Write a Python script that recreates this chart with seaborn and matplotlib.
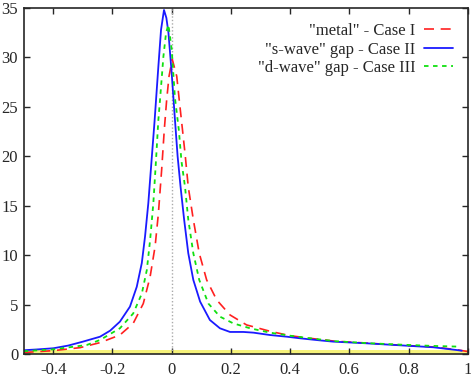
import numpy as np
import pandas as pd
import matplotlib
matplotlib.use("Agg")
import matplotlib.pyplot as plt
import seaborn as sns

# =========================
# DATA
# =========================

metal_x = [-0.5, -0.4, -0.31, -0.242, -0.175, -0.13, -0.096, -0.073, -0.056,
           -0.045, -0.034, -0.025, -0.017, -0.009, 0.002, 0.017, 0.028,
           0.036, 0.045, 0.056, 0.073, 0.093, 0.118, 0.152, 0.197, 0.253,
           0.332, 0.4, 0.467, 0.55, 0.66, 0.77, 0.88, 0.96, 1.0]
metal_y = [0.15, 0.34, 0.64, 1.15, 1.92, 3.1, 5.1, 7.8, 10.9,
           14.2, 18.6, 22.7, 25.7, 28.1, 29.8, 28.1, 25.0,
           22.8, 20.3, 16.9, 13.6, 10.2, 7.5, 5.47, 3.95, 2.94,
           2.3, 1.85, 1.59, 1.3, 1.1, 0.9, 0.72, 0.45, 0.25]

swave_x = [-0.5, -0.45, -0.4, -0.35, -0.3, -0.242, -0.208, -0.175, -0.141,
           -0.118, -0.101, -0.09, -0.079, -0.068, -0.058, -0.045, -0.036,
           -0.026, -0.018, -0.011, 0.0, 0.011, 0.02, 0.03, 0.042, 0.056,
           0.073, 0.096, 0.129, 0.163, 0.197, 0.242, 0.276, 0.332, 0.389,
           0.433, 0.5, 0.546, 0.659, 0.771, 0.884, 0.963, 0.98]
swave_y = [0.38, 0.47, 0.58, 0.85, 1.25, 1.75, 2.36, 3.27, 4.79,
           6.8, 9.2, 11.9, 15.25, 19.6, 23.5, 29.1, 32.8,
           34.8, 34.0, 32.5, 28.4, 23.7, 20.0, 16.9, 13.6, 10.2,
           7.5, 5.3, 3.44, 2.6, 2.23, 2.23, 2.16, 1.92, 1.75,
           1.59, 1.38, 1.25, 1.08, 0.88, 0.68, 0.4, 0.33]

dwave_x = [-0.5, -0.4, -0.287, -0.242, -0.175, -0.13, -0.101, -0.084, -0.073,
           -0.062, -0.053, -0.045, -0.04, -0.028, -0.019, -0.011, 0.0, 0.011,
           0.024, 0.033, 0.045, 0.056, 0.073, 0.093, 0.124, 0.163, 0.208,
           0.265, 0.332, 0.4, 0.467, 0.55, 0.66, 0.77, 0.88, 0.975]
dwave_y = [0.28, 0.47, 0.91, 1.42, 2.6, 4.1, 6.1, 8.5, 11.5,
           15.25, 19.6, 23.7, 25.5, 30.1, 32.5, 33.3, 30.8, 25.9,
           22.7, 19.5, 16.9, 13.6, 10.2, 7.5, 5.1, 3.78, 3.1,
           2.6, 2.16, 1.85, 1.59, 1.3, 1.1, 0.95, 0.82, 0.74]

labels = ['"metal" - Case I', '"s-wave" gap - Case II', '"d-wave" gap - Case III']
x_ticks = [-0.4, -0.2, 0, 0.2, 0.4, 0.6, 0.8, 1]
x_tick_labels = ["-0.4", "-0.2", "0", "0.2", "0.4", "0.6", "0.8", "1"]
y_ticks = [0, 5, 10, 15, 20, 25, 30, 35]

# =========================
# PLOT
# =========================

sns.set_style("ticks")
plt.rcParams['font.family'] = ['Liberation Serif', 'DejaVu Serif']
plt.rcParams['xtick.direction'] = 'in'
plt.rcParams['ytick.direction'] = 'in'

fig = plt.figure(figsize=(4.71, 3.78), dpi=100)
ax = fig.add_axes([0.0503, 0.0635, 0.9427, 0.9153])

# yellow strip along the zero line
ax.axhspan(0, 0.42, color='#f6f27a', lw=0, zorder=0)

# dotted line at zero
ax.axvline(0, color='#aaaaaa', lw=1, ls=(0, (1, 1.5)), zorder=1)

df_metal = pd.DataFrame({'x': metal_x, 'y': metal_y})
df_s = pd.DataFrame({'x': swave_x, 'y': swave_y})
df_d = pd.DataFrame({'x': dwave_x, 'y': dwave_y})

sns.lineplot(data=df_metal, x='x', y='y', ax=ax, color='#ff2020', lw=1.2,
             ls=(0, (6, 4)), label=labels[0], sort=False)
sns.lineplot(data=df_s, x='x', y='y', ax=ax, color='#1a1aff', lw=1.3,
             label=labels[1], sort=False)
sns.lineplot(data=df_d, x='x', y='y', ax=ax, color='#10e010', lw=1.3,
             ls=(0, (2.5, 2.5)), label=labels[2], sort=False)

ax.set_xlim(-0.5, 1)
ax.set_ylim(0, 35)
ax.set_xticks(x_ticks)
ax.set_xticklabels(x_tick_labels)
ax.set_yticks(y_ticks)
ax.set_xlabel("")
ax.set_ylabel("")
ax.tick_params(top=True, right=True, labelsize=12, length=4, width=1,
               pad=6)
ax.tick_params(axis='y', pad=4)
for s in ax.spines.values():
    s.set_linewidth(1.2)

leg = ax.legend(loc='upper right', frameon=False, fontsize=12,
                markerfirst=False, handlelength=1.7, handletextpad=0.55,
                labelspacing=0.15, borderaxespad=0.5)
for t in leg.get_texts():
    t.set_ha('right')

fig.savefig("out.png", dpi=100)
